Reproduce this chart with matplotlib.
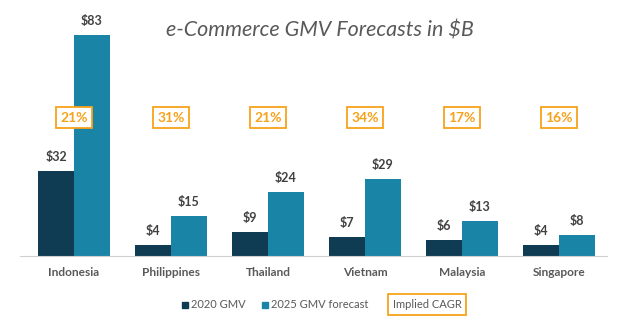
import numpy as np
import matplotlib.pyplot as plt
from matplotlib.patches import Rectangle

countries = ['Indonesia', 'Philippines', 'Thailand', 'Vietnam', 'Malaysia', 'Singapore']
gmv_2020 = [32, 4, 9, 7, 6, 4]
gmv_2025 = [83, 15, 24, 29, 13, 8]
cagr = ['21%', '31%', '21%', '34%', '17%', '16%']

dark = '#0f3b53'
light = '#1a84a6'
orange = '#f7a21b'
grey = '#404040'

plt.rcParams['font.family'] = ['Lato', 'DejaVu Sans']

fig = plt.figure(figsize=(6.4, 3.21), dpi=100)
ax = fig.add_axes([20/640, 65/321, 587/640, 236/321])

x = np.arange(len(countries))
w = 0.37
ax.bar(x - w/2, gmv_2020, w, color=dark)
ax.bar(x + w/2, gmv_2025, w, color=light)

for i in x:
    ax.text(i - w/2, gmv_2020[i] + 3, f'${gmv_2020[i]}', ha='center', va='bottom',
            fontsize=9, fontweight='bold', color=grey)
    ax.text(i + w/2, gmv_2025[i] + 3, f'${gmv_2025[i]}', ha='center', va='bottom',
            fontsize=9, fontweight='bold', color=grey)
    ax.text(i, 52, cagr[i], ha='center', va='center', fontsize=10, fontweight='bold',
            color=orange, bbox=dict(boxstyle='square,pad=0.3', fc='white', ec=orange, lw=1.3))

ax.set_xlim(-0.557, 5.495)
ax.set_ylim(0, 88.7)
ax.set_xticks(x)
ax.set_xticklabels(countries, fontsize=8.6, fontweight='bold', color='#595959')
ax.tick_params(axis='x', length=0, pad=8)
ax.set_yticks([])
for s in ['top', 'right', 'left']:
    ax.spines[s].set_visible(False)
ax.spines['bottom'].set_color('#d0d0d0')

fig.text(0.5, 0.905, 'e-Commerce GMV Forecasts in $B', ha='center', va='center',
         fontsize=15.5, style='italic', color='#595959')

# legend drawn by hand
ly = 0.05
legend_items = [('2020 GMV', dark, 182), ('2025 GMV forecast', light, 262)]
for label, col, px in legend_items:
    fig.add_artist(Rectangle((px/640, ly - 3/321), 6/640, 6/321, color=col,
                             transform=fig.transFigure))
    fig.text((px + 9)/640, ly, label, ha='left', va='center', fontsize=8, color='#595959')
fig.text(427/640, ly, 'Implied CAGR', ha='center', va='center', fontsize=8, color='#595959',
         bbox=dict(boxstyle='square,pad=0.45', fc='white', ec=orange, lw=1.3))

fig.savefig('out.png', dpi=100)
